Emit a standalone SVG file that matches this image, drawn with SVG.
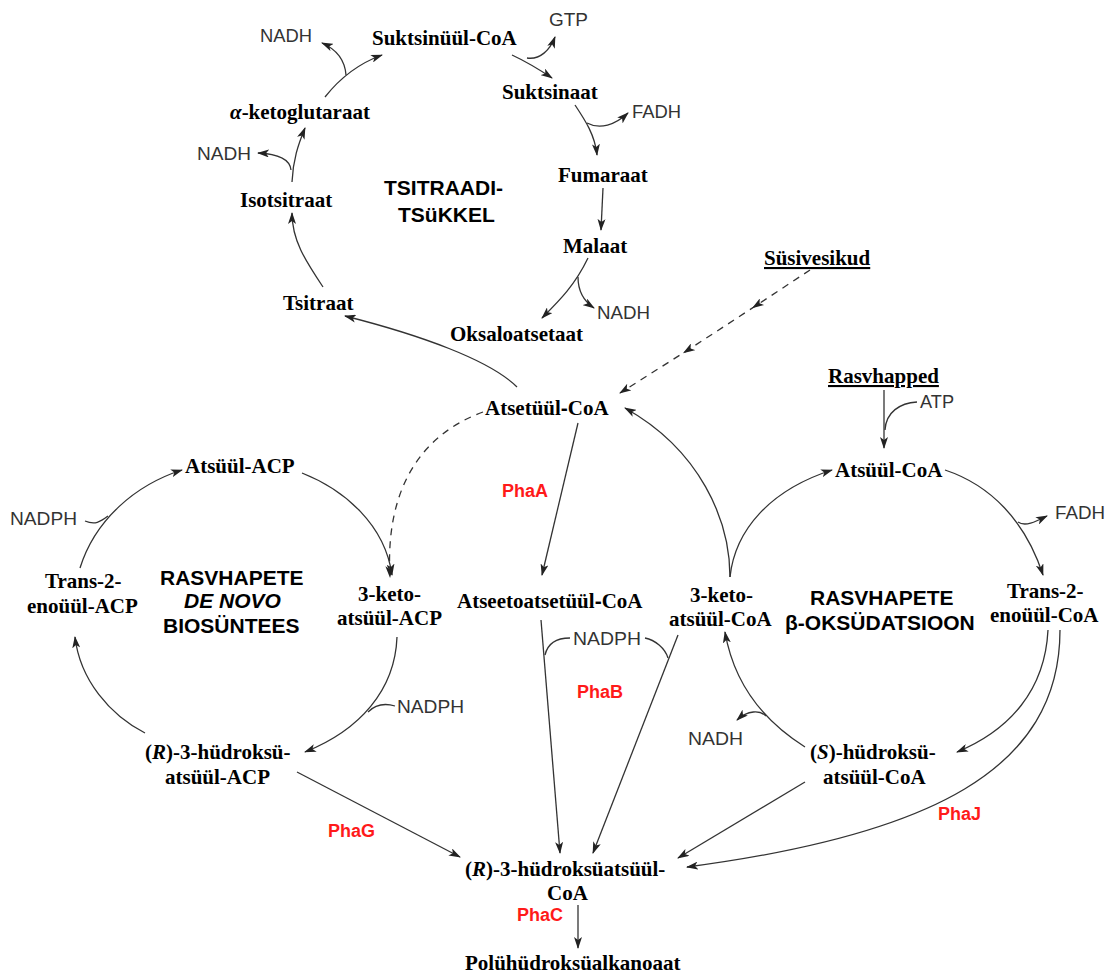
<svg xmlns="http://www.w3.org/2000/svg" width="1113" height="976" viewBox="0 0 1113 976">
<style>
.b{font-family:"Liberation Serif","Times New Roman",serif;font-weight:bold;font-size:21px;fill:#000}
.s{font-family:"Liberation Sans",Arial,sans-serif;font-size:18px;fill:#333}
.h{font-family:"Liberation Sans",Arial,sans-serif;font-weight:bold;font-size:21px;fill:#000}
.r{font-family:"Liberation Sans",Arial,sans-serif;font-weight:bold;font-size:18px;fill:#ff1a1a}
.i{font-style:italic}
.y{font-family:"Liberation Sans",Arial,sans-serif;font-weight:bold}
.c{fill:none;stroke:#333;stroke-width:1.3}
.a{marker-end:url(#ar)}
.d{stroke-dasharray:7,6}
</style>
<defs>
<marker id="ar" viewBox="0 0 12 8" refX="11" refY="4" markerWidth="12" markerHeight="8" markerUnits="userSpaceOnUse" orient="auto">
<path d="M0,0 L12,4 L0,8 L3,4 z" fill="#222"/>
</marker>
<marker id="am" viewBox="0 0 12 8" refX="6" refY="4" markerWidth="12" markerHeight="8" markerUnits="userSpaceOnUse" orient="auto">
<path d="M0,0 L12,4 L0,8 L3,4 z" fill="#222"/>
</marker>
</defs>
<rect width="1113" height="976" fill="#fff"/>

<g id="connectors">
<!-- TCA cycle -->
<path class="c a" d="M517,387 C490,360 420,335 345,316"/>
<path class="c a" d="M323,287 C305,260 292,240 292,213"/>
<path class="c a" d="M292,182 C293,160 298,145 305,128"/>
<path class="c a" d="M291,170 C290,160 280,154 258,153"/>
<path class="c a" d="M325,97 C340,78 360,63 382,55"/>
<path class="c a" d="M346,75 C345,62 338,50 322,43"/>
<path class="c a" d="M512,55 C527,62 540,70 552,78"/>
<path class="c a" d="M527,58 C540,60 550,50 555,37"/>
<path class="c a" d="M575,105 C585,120 595,135 597,155"/>
<path class="c a" d="M587,123 C600,130 615,125 628,113"/>
<path class="c a" d="M603,188 L601,230"/>
<path class="c a" d="M588,258 C575,285 560,300 542,318"/>
<path class="c a" d="M578,277 C578,292 585,302 594,308"/>
<!-- Süsivesikud dashed -->
<polyline class="c d a" points="810,270 757,305 688,350 620,393" style="marker-mid:url(#am)"/>
<!-- Rasvhapped -->
<path class="c a" d="M884,390 L884,448"/>
<path class="c" d="M917,402 C900,403 886,412 885,430"/>
<!-- beta oxidation -->
<path class="c a" d="M945,470 C990,485 1025,520 1043,575"/>
<path class="c a" d="M1018,522 C1025,527 1035,522 1047,516"/>
<path class="c a" d="M730,577 C735,530 770,490 832,470"/>
<path class="c a" d="M730,577 C730,520 700,450 625,408"/>
<path class="c a" d="M1048,630 C1045,690 1010,730 957,752"/>
<path class="c a" d="M805,747 C770,725 735,690 725,632"/>
<path class="c a" d="M766,716 C760,710 748,710 737,720"/>
<path class="c a" d="M1060,630 C1060,770 930,835 687,867"/>
<path class="c a" d="M805,782 L678,858"/>
<!-- central -->
<path class="c a" d="M578,423 L542,575"/>
<path class="c a" d="M541,620 L560,853"/>
<path class="c a" d="M678,635 L593,853"/>
<path class="c" d="M545,655 C548,642 558,638 570,638"/>
<path class="c" d="M645,638 C655,640 665,648 668,658"/>
<!-- de novo -->
<path class="c a" d="M302,473 C345,490 385,525 392,575"/>
<path class="c d a" d="M483,412 C420,435 385,490 390,577"/>
<path class="c a" d="M397,637 C395,690 360,730 305,752"/>
<path class="c" d="M395,706 C385,703 375,705 368,712"/>
<path class="c a" d="M145,733 C110,715 80,680 75,637"/>
<path class="c a" d="M80,568 C95,520 135,485 182,470"/>
<path class="c" d="M85,521 C95,525 100,522 108,516"/>
<path class="c a" d="M297,772 L460,857"/>
<!-- PhaC -->
<path class="c a" d="M578,905 L578,948"/>
</g>

<g id="tca">
<g id="suktsinyyl-coa"><text class="b" x="372" y="45">Suktsinüül-CoA</text></g>
<g id="gtp"><text class="s" x="549" y="26" textLength="39" lengthAdjust="spacingAndGlyphs">GTP</text></g>
<g id="nadh1"><text class="s" x="260" y="42" textLength="52" lengthAdjust="spacingAndGlyphs">NADH</text></g>
<g id="a-keto"><text class="b" x="230" y="119"><tspan class="i">α</tspan>-ketoglutaraat</text></g>
<g id="nadh2"><text class="s" x="197" y="160" textLength="54" lengthAdjust="spacingAndGlyphs">NADH</text></g>
<g id="isotsitraat"><text class="b" x="240" y="207">Isotsitraat</text></g>
<g id="tca-title"><text class="h" x="384" y="195">TSITRAADI-</text><text class="h" x="398" y="222">TSüKKEL</text></g>
<g id="suktsinaat"><text class="b" x="502" y="99">Suktsinaat</text></g>
<g id="fadh1"><text class="s" x="632" y="118" textLength="49" lengthAdjust="spacingAndGlyphs">FADH</text></g>
<g id="fumaraat"><text class="b" x="558" y="182">Fumaraat</text></g>
<g id="malaat"><text class="b" x="563" y="253">Malaat</text></g>
<g id="nadh3"><text class="s" x="597" y="319" textLength="53" lengthAdjust="spacingAndGlyphs">NADH</text></g>
<g id="tsitraat"><text class="b" x="283" y="310">Tsitraat</text></g>
<g id="oksaloatsetaat"><text class="b" x="450" y="341">Oksaloatsetaat</text></g>
</g>

<g id="sources">
<g id="susivesikud"><text class="b" x="764" y="265" text-decoration="underline">Süsivesikud</text></g>
<g id="rasvhapped"><text class="b" x="828" y="383" text-decoration="underline">Rasvhapped</text></g>
<g id="atp"><text class="s" x="920" y="408" textLength="34" lengthAdjust="spacingAndGlyphs">ATP</text></g>
</g>

<g id="center">
<g id="atsetyyl-coa"><text class="b" x="485" y="415">Atsetüül<tspan class="y">-</tspan>CoA</text></g>
<g id="phaA"><text class="r" x="502" y="497">PhaA</text></g>
<g id="atseetoatsetyyl-coa"><text class="b" x="457" y="608">Atseetoatsetüül<tspan class="y">-</tspan>CoA</text></g>
<g id="nadph-c"><text class="s" x="573" y="645" textLength="68" lengthAdjust="spacingAndGlyphs">NADPH</text></g>
<g id="phaB"><text class="r" x="577" y="698">PhaB</text></g>
<g id="r-coa"><text class="b" x="465" y="876">(<tspan class="i">R</tspan>)-3-hüdroksüatsüül-</text><text class="b" x="547" y="900">CoA</text></g>
<g id="phaC"><text class="r" x="517" y="921">PhaC</text></g>
<g id="pha"><text class="b" x="465" y="970">Polühüdroksüalkanoaat</text></g>
<g id="phaG"><text class="r" x="328" y="837">PhaG</text></g>
<g id="phaJ"><text class="r" x="938" y="820">PhaJ</text></g>
</g>

<g id="denovo">
<g id="atsyyl-acp"><text class="b" x="185" y="473">Atsüül-ACP</text></g>
<g id="nadph-l"><text class="s" x="10" y="525" textLength="67" lengthAdjust="spacingAndGlyphs">NADPH</text></g>
<g id="trans-acp"><text class="b" x="45" y="588">Trans-2-</text><text class="b" x="27" y="613">enoüül-ACP</text></g>
<g id="denovo-title"><text class="h" x="160" y="585">RASVHAPETE</text><text class="h i" x="184" y="608">DE NOVO</text><text class="h" x="163" y="633">BIOSÜNTEES</text></g>
<g id="keto-acp"><text class="b" x="358" y="601">3-keto-</text><text class="b" x="337" y="625">atsüül-ACP</text></g>
<g id="nadph-d"><text class="s" x="397" y="713" textLength="67" lengthAdjust="spacingAndGlyphs">NADPH</text></g>
<g id="r-acp"><text class="b" x="145" y="759">(<tspan class="i">R</tspan>)-3-hüdroksü-</text><text class="b" x="165" y="784">atsüül-ACP</text></g>
</g>

<g id="beta">
<g id="atsyyl-coa"><text class="b" x="835" y="477">Atsüül-CoA</text></g>
<g id="fadh2"><text class="s" x="1055" y="519" textLength="50" lengthAdjust="spacingAndGlyphs">FADH</text></g>
<g id="keto-coa"><text class="b" x="690" y="602">3-keto-</text><text class="b" x="669" y="626">atsüül-CoA</text></g>
<g id="beta-title"><text class="h" x="810" y="605">RASVHAPETE</text><text class="h" x="785" y="630">β-OKSÜDATSIOON</text></g>
<g id="trans-coa"><text class="b" x="1007" y="598">Trans-2-</text><text class="b" x="990" y="622">enoüül-CoA</text></g>
<g id="nadh4"><text class="s" x="688" y="745" textLength="55" lengthAdjust="spacingAndGlyphs">NADH</text></g>
<g id="s-coa"><text class="b" x="810" y="759">(<tspan class="i">S</tspan>)-hüdroksü-</text><text class="b" x="823" y="784">atsüül-CoA</text></g>
</g>
</svg>
